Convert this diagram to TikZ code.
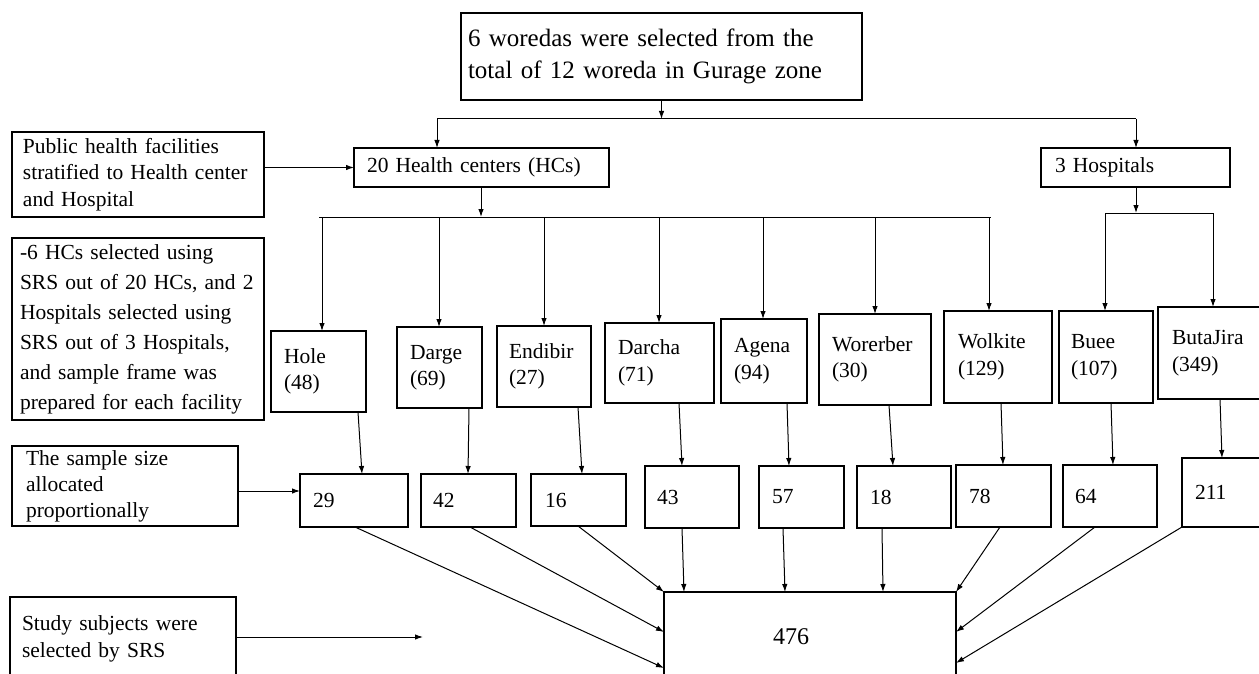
\documentclass[tikz,border=0pt]{standalone}
\usepackage{fontspec}
\setmainfont{Liberation Serif}
\usetikzlibrary{arrows.meta,calc}
\newcommand\fsN{\fontsize{21.5}{26.5}\selectfont}
\newcommand\fsT{\fontsize{25}{32}\selectfont}
\newcommand\fsL{\fontsize{21.5}{30}\selectfont}
\newcommand\fsB{\fontsize{24}{28}\selectfont}
\begin{document}
\begin{tikzpicture}[x=1pt,y=-1pt,
  bx/.style={draw, line width=1.5pt, anchor=north west, outer sep=0pt, inner ysep=0pt, align=left, font=\fsN},
  conn/.style={line width=1pt},
  arr/.style={conn, -{Latex[length=8pt,width=5.5pt]}}]
\useasboundingbox (0,0) rectangle (1259,674);
% boxes
\node[bx, inner xsep=7pt, text width=387pt, minimum height=87pt, font=\fsT] (top) at (461,13) {6 woredas were selected from the\\total of 12 woreda in Gurage zone};
\node[bx, inner xsep=11pt, text width=230pt, minimum height=85pt] (lb1) at (12,132) {Public health facilities\\stratified to Health center\\and Hospital};
\node[bx, inner xsep=13pt, text width=229pt, minimum height=39pt] (hc) at (354,148) {20 Health centers (HCs)};
\node[bx, inner xsep=14pt, text width=161pt, minimum height=39pt] (hosp) at (1041,148) {3 Hospitals};
\node[bx, inner xsep=8pt, text width=236pt, minimum height=182pt, font=\fsL] (lb2) at (12,238) {-6 HCs selected using\\SRS out of 20 HCs, and 2\\Hospitals selected using\\SRS out of 3 Hospitals,\\and sample frame was\\prepared for each facility};
\node[bx, inner xsep=14pt, text width=198pt, minimum height=80pt, font=\fontsize{21.5}{26}\selectfont] (lb3) at (12,446) {The sample size\\allocated\\proportionally};
\node[bx, inner xsep=12pt, text width=202pt, minimum height=84pt, font=\fontsize{21.5}{27}\selectfont] (lb4) at (10,597) {Study subjects were\\selected by SRS};
% facilities
\node[bx, inner xsep=13pt, text width=69pt, minimum height=81pt] (hole) at (271,331) {Hole\\(48)};
\node[bx, inner xsep=13pt, text width=59pt, minimum height=81pt] (darge) at (397,327) {Darge\\(69)};
\node[bx, inner xsep=12pt, text width=70pt, minimum height=81pt] (endibir) at (497,326) {Endibir\\(27)};
\node[bx, inner xsep=13pt, text width=83pt, minimum height=80pt] (darcha) at (605,323) {Darcha\\(71)};
\node[bx, inner xsep=13pt, text width=60pt, minimum height=84pt] (agena) at (721,319) {Agena\\(94)};
\node[bx, inner xsep=13pt, text width=86pt, minimum height=91pt] (worerber) at (819,314) {Worerber\\(30)};
\node[bx, inner xsep=14pt, text width=80pt, minimum height=92pt] (wolkite) at (944,311) {Wolkite\\(129)};
\node[bx, inner xsep=12pt, text width=70pt, minimum height=92pt] (buee) at (1059,311) {Buee\\(107)};
\node[bx, inner xsep=14pt, text width=77pt, minimum height=92pt] (butajira) at (1158,307) {ButaJira\\(349)};
% samples
\node[bx, inner xsep=13pt, text width=82pt, minimum height=53pt] (s29) at (300,474) {29};
\node[bx, inner xsep=12pt, text width=71pt, minimum height=53pt] (s42) at (421,474) {42};
\node[bx, inner xsep=14pt, text width=67pt, minimum height=52pt] (s16) at (531,474) {16};
\node[bx, inner xsep=12pt, text width=70pt, minimum height=62pt] (s43) at (645,466) {43};
\node[bx, inner xsep=13pt, text width=59pt, minimum height=62pt] (s57) at (759,466) {57};
\node[bx, inner xsep=13pt, text width=68pt, minimum height=62pt] (s18) at (857,466) {18};
\node[bx, inner xsep=13pt, text width=69pt, minimum height=62pt] (s78) at (956,465) {78};
\node[bx, inner xsep=12pt, text width=70pt, minimum height=62pt] (s64) at (1063,465) {64};
\node[bx, inner xsep=13pt, text width=54pt, minimum height=69pt] (s211) at (1182,458) {211};
\node[bx, inner xsep=109pt, text width=74pt, minimum height=90pt, font=\fsB] (total) at (664,592) {476};
% branch 1
\coordinate (j1L) at (437,119);
\coordinate (j1R) at (1136,119);
\draw[arr] (top.south) -- (top.south |- j1L);
\draw[conn] (j1L) -- (j1R);
\draw[arr] (j1L) -- (j1L |- hc.north);
\draw[arr] (j1R) -- (j1R |- hosp.north);
\draw[arr] (hc.west -| lb1.east) -- (hc.west);
% branch 2 (health centres)
\coordinate (j2) at (481,217);
\coordinate (j2L) at (319,217);
\coordinate (j2R) at (991,217);
\draw[arr] (hc.south -| j2) -- (j2);
\draw[conn] (j2L) -- (j2R);
\foreach \xx/\nm in {322/hole,439/darge,544/endibir,659/darcha,763/agena,875/worerber,989/wolkite}
  \draw[arr] (j2 -| \xx,0) -- (\nm.north -| \xx,0);
% branch 3 (hospitals)
\coordinate (j3) at (1136,213);
\coordinate (j3L) at (1105,213);
\coordinate (j3R) at (1214,213);
\draw[arr] (hosp.south -| j3) -- (j3);
\draw[conn] (j3L) -- (j3R);
\draw[arr] (j3L) -- (j3L |- buee.north);
\draw[arr] (1213,213) -- (butajira.north -| 1213,0);
% facilities to samples
\foreach \a/\b/\xa/\xb in {hole/s29/358/362,darge/s42/469/468,endibir/s16/578/582,darcha/s43/679/682,agena/s57/787/789,worerber/s18/889/893,wolkite/s78/1001/1003,buee/s64/1111/1113,butajira/s211/1220/1222}
  \draw[arr] (\a.south -| \xa,0) -- (\b.north -| \xb,0);
\draw[arr] ([yshift=-5pt]lb3.east) -- ([yshift=-5pt]lb3.east -| s29.west);
% samples to total
\draw[arr] (s29.south -| 355,0) -- (total.west |- 0,668);
\draw[arr] (s42.south -| 470,0) -- (total.west |- 0,632);
\draw[arr] (s16.south -| 578,0) -- (total.north west);
\draw[arr] (s43.south -| 682,0) -- (total.north -| 684,0);
\draw[arr] (s57.south -| 783,0) -- (total.north -| 785,0);
\draw[arr] (s18.south -| 882,0) -- (total.north -| 883,0);
\draw[arr] (s78.south -| 1000,0) -- (total.north east);
\draw[arr] (s64.south -| 1095,0) -- (total.east |- 0,632);
\draw[arr] (s211.south west) -- (total.east |- 0,663);
% study subjects arrow
\coordinate (ssEnd) at (423,637);
\draw[arr] (lb4.east |- ssEnd) -- (ssEnd);
\end{tikzpicture}
\end{document}
